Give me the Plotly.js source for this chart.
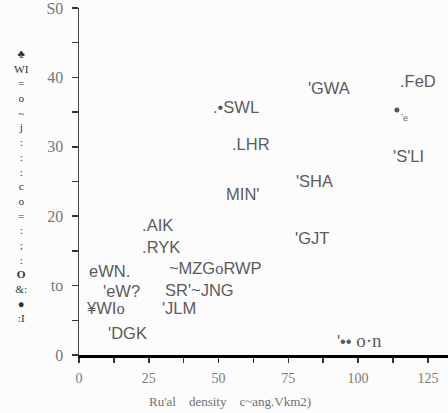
<!DOCTYPE html>
<html>
<head>
<meta charset="utf-8">
<script src="https://cdn.plot.ly/plotly-3.0.1.min.js"></script>
<style>
  html, body { margin: 0; padding: 0; background: #fcfcfc; }
  #chart { width: 448px; height: 413px; }
</style>
</head>
<body>
<div id="chart"></div>
<script>
// District points: rural density (x) against urban value (y), labelled by code
const ruralDensity = [115.0, 82.0, 48.0, 54.8, 112.5, 77.7, 52.7, 22.6, 77.4, 22.6, 32.2, 3.6, 8.6, 30.8, 29.7, 2.9, 10.4, 92.4];
const urbanValue   = [39.2, 38.2, 35.45, 30.1, 28.4, 24.8, 22.9, 18.4, 16.6, 15.3, 12.2, 11.8, 8.9, 9.1, 6.5, 6.5, 2.9, 1.7];
const codes = [
  ".FeD", "'GWA", ".\u2022SWL", ".LHR", "'S'LI", "'SHA", "MIN'", ".AIK", "'GJT", ".RYK",
  "~MZG<span style=\"font-family:'Liberation Serif'\">o</span>RWP",
  "eWN.", "'eW?", "SR'~JNG", "'JLM",
  "\u00a5WI<span style=\"font-family:'Liberation Serif'\">o</span>",
  "'DGK",
  "'\u2022\u2022 <span style=\"font-family:'Liberation Serif';font-size:19px\">o\u00b7n</span>"
];

// Unlabelled point beside FeD
const extraX = [113.9];
const extraY = [35.3];

const xTickVals = [0, 12.5, 25, 37.5, 50, 62.5, 75, 87.5, 100, 112.5, 125];
const xTickText = ["0", "", "25", "", "50", "", "75", "", "100", "", "125"];
const yTickVals = [0, 5, 10, 15, 20, 25, 30, 35, 40, 45, 50];
const yTickText = ["0", "", "to", "", "20", "", "30", "", "40", "", "S0"];

const xTitle = "Ru'al \u00a0\u00a0 density \u00a0\u00a0 c~ang.Vkm2)";
const yTitleGlyphs = ["<b>\u2663</b>", "WI", "=", "o", "~", "j", ":", ":", ":", "c", "o", "=", ":", ";", ":", "<b>O</b>", "&:", "\u25cf", ":I"];

const labelColor = "#5b5b5b";

const traces = [
  {
    type: "scatter",
    mode: "text",
    x: ruralDensity,
    y: urbanValue,
    text: codes,
    textposition: "middle right",
    textfont: { family: "Liberation Sans, Arial, sans-serif", size: 16.5, color: labelColor },
    hoverinfo: "skip",
    cliponaxis: false,
    showlegend: false
  },
  {
    type: "scatter",
    mode: "markers+text",
    x: extraX,
    y: extraY,
    text: ["\u02bce"],
    textposition: "bottom right",
    textfont: { family: "Liberation Sans, sans-serif", size: 9, color: "#666" },
    marker: { size: 5, color: "#555", symbol: "circle" },
    hoverinfo: "skip",
    showlegend: false
  }
];

const layout = {
  width: 448,
  height: 413,
  margin: { l: 79, r: 0, t: 8, b: 58 },
  paper_bgcolor: "#fcfcfc",
  plot_bgcolor: "#fcfcfc",
  showlegend: false,
  xaxis: {
    range: [0, 132.2],
    showgrid: false,
    zeroline: false,
    showline: true,
    linecolor: "#000",
    linewidth: 3,
    ticks: "outside",
    ticklen: 5,
    tickwidth: 1.5,
    tickcolor: "#333",
    tickvals: xTickVals,
    ticktext: xTickText,
    ticklabelstandoff: 3,
    tickfont: { family: "Liberation Serif, Times New Roman, serif", size: 14, color: "#7a7a7a" },
    ticklabeloverflow: "allow",
    fixedrange: true
  },
  yaxis: {
    range: [0, 50],
    showgrid: false,
    zeroline: false,
    showline: true,
    linecolor: "#444",
    linewidth: 1.5,
    ticks: "outside",
    ticklen: 6,
    tickwidth: 1.5,
    tickcolor: "#333",
    tickvals: yTickVals,
    ticktext: yTickText,
    ticklabelstandoff: 5,
    ticklabeloverflow: "allow",
    tickfont: { family: "Liberation Serif, Times New Roman, serif", size: 16, color: "#777" },
    fixedrange: true
  },
  annotations: [
    {
      text: xTitle,
      xref: "paper", yref: "paper",
      x: 0.41, y: -0.135,
      xanchor: "center", yanchor: "middle",
      showarrow: false,
      font: { family: "Liberation Serif, Times New Roman, serif", size: 13, color: "#707070" }
    },
    {
      text: yTitleGlyphs.join("<br>"),
      xref: "paper", yref: "paper",
      x: -0.155, y: 0.487,
      xanchor: "center", yanchor: "middle",
      showarrow: false,
      align: "center",
      font: { family: "Liberation Serif, Times New Roman, serif", size: 11.3, color: "#333" }
    }
  ]
};

Plotly.newPlot("chart", traces, layout, { staticPlot: true, displayModeBar: false });
</script>
</body>
</html>
